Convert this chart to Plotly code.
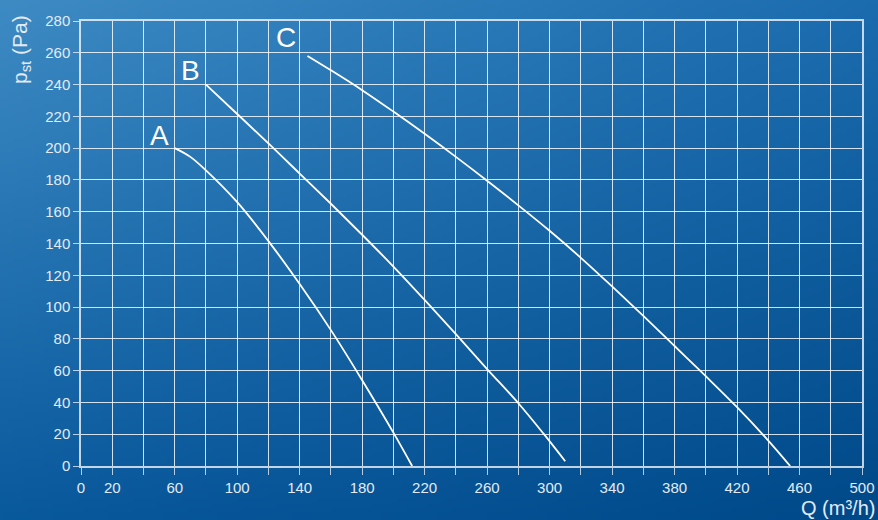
import base64, struct, zlib
import numpy as np
import plotly.graph_objects as go

# ---- data ----
curve_a_q = [60, 70, 80, 100, 120, 140, 160, 180, 200, 212]
curve_a_p = [200, 194.5, 186, 166, 141.5, 114.5, 85.5, 54, 21, 0]

curve_b_q = [80, 100, 120, 140, 160, 180, 200, 220, 240, 260, 280, 296, 310]
curve_b_p = [240, 221.5, 203, 184, 165, 145.5, 125.5, 104.5, 83, 61, 39.5, 20.5, 3]

curve_c_q = [145, 160, 180, 200, 220, 240, 260, 280, 300, 320, 340, 360, 380, 400, 420, 440, 454]
curve_c_p = [258, 249, 236.5, 223, 209, 194.5, 179.5, 164, 148, 131, 113, 94.5, 75.5, 56.5, 37, 16, 0]

curve_names = ["A", "B", "C"]
label_q = [50.5, 70.2, 131.2]
label_p = [208, 249, 269.5]

x_grid = list(range(0, 501, 20))
x_labels = [0, 20, 60, 100, 140, 180, 220, 260, 300, 340, 380, 420, 460, 500]
y_grid = list(range(0, 281, 20))

# ---- layout constants ----
W, H = 878, 520
L, R, T, B = 81, 16, 21, 54
PW, PH = W - L - R, H - T - B
TXT = "#e2ebf4"
FONT = "Liberation Sans, Arial, sans-serif"


def gradient_png():
    w, h = 176, 104
    tl = np.array([62, 139, 196], float)
    tr = np.array([27, 108, 175], float)
    bl = np.array([9, 89, 157], float)
    br = np.array([0, 73, 137], float)
    u = np.linspace(0, 1, w)[None, :, None]
    v = np.linspace(0, 1, h)[:, None, None]
    img = (tl * (1 - u) * (1 - v) + tr * u * (1 - v) + bl * (1 - u) * v + br * u * v)
    img = np.clip(img, 0, 255).astype(np.uint8)
    raw = b"".join(b"\x00" + img[y].tobytes() for y in range(h))

    def chunk(tag, data):
        return (struct.pack(">I", len(data)) + tag + data
                + struct.pack(">I", zlib.crc32(tag + data) & 0xFFFFFFFF))

    png = (b"\x89PNG\r\n\x1a\n"
           + chunk(b"IHDR", struct.pack(">IIBBBBB", w, h, 8, 2, 0, 0, 0))
           + chunk(b"IDAT", zlib.compress(raw, 9))
           + chunk(b"IEND", b""))
    return "data:image/png;base64," + base64.b64encode(png).decode()


fig = go.Figure()
for qs, ps in [(curve_a_q, curve_a_p), (curve_b_q, curve_b_p), (curve_c_q, curve_c_p)]:
    fig.add_trace(go.Scatter(x=qs, y=ps, mode="lines",
                             line=dict(color="white", width=1.8, shape="spline", smoothing=1.0),
                             showlegend=False, hoverinfo="skip"))

for name, q, p in zip(curve_names, label_q, label_p):
    fig.add_annotation(x=q, y=p, text=name, showarrow=False,
                       font=dict(size=28, color="white", family=FONT),
                       xanchor="center", yanchor="middle")

fig.add_annotation(xref="paper", yref="paper", x=(20.5 - L) / PW, y=(466 - 49.5) / PH,
                   text="p<sub>st</sub> (Pa)", textangle=-90, showarrow=False,
                   font=dict(size=21, color=TXT, family=FONT),
                   xanchor="center", yanchor="middle")
fig.add_annotation(xref="paper", yref="paper", x=(876 - L) / PW, y=(466 - 508) / PH,
                   text="Q (m³/h)", showarrow=False,
                   font=dict(size=20, color=TXT, family=FONT),
                   xanchor="right", yanchor="middle", borderpad=0)

fig.add_layout_image(dict(source=gradient_png(), xref="paper", yref="paper",
                          x=-L / PW, y=1 + T / PH, sizex=W / PW, sizey=H / PH,
                          sizing="stretch", xanchor="left", yanchor="top",
                          layer="below"))

x_text = [str(v) if v in x_labels else "" for v in x_grid]

fig.update_xaxes(range=[0, 500], tickmode="array", tickvals=x_grid, ticktext=x_text,
                 automargin=False,
                 showgrid=True, gridcolor="rgba(255,255,255,0.82)", gridwidth=1,
                 zeroline=False, showline=True, linecolor="rgba(255,255,255,0.75)",
                 linewidth=1.5, mirror=True,
                 ticks="outside", ticklen=7, tickcolor="rgba(255,255,255,0.7)", tickwidth=1,
                 tickfont=dict(size=15, color=TXT, family=FONT))
fig.update_yaxes(range=[0, 280], tickmode="array", tickvals=y_grid,
                 automargin=False,
                 showgrid=True, gridcolor="rgba(255,255,255,0.82)", gridwidth=1,
                 zeroline=False, showline=True, linecolor="rgba(255,255,255,0.75)",
                 linewidth=1.5, mirror=True,
                 ticks="outside", ticklen=6, tickcolor="rgba(255,255,255,0.7)", tickwidth=1,
                 tickfont=dict(size=15, color=TXT, family=FONT))

fig.update_layout(width=W, height=H, autosize=False, margin=dict(l=L, r=R, t=T, b=B, pad=0),
                  paper_bgcolor="#0b5a9d", plot_bgcolor="rgba(0,0,0,0)",
                  font=dict(family=FONT, color=TXT), showlegend=False)

fig.write_html("out.html",
               config={"displayModeBar": False, "responsive": False},
               post_script="document.body.style.margin='0';document.body.style.overflow='hidden';")
